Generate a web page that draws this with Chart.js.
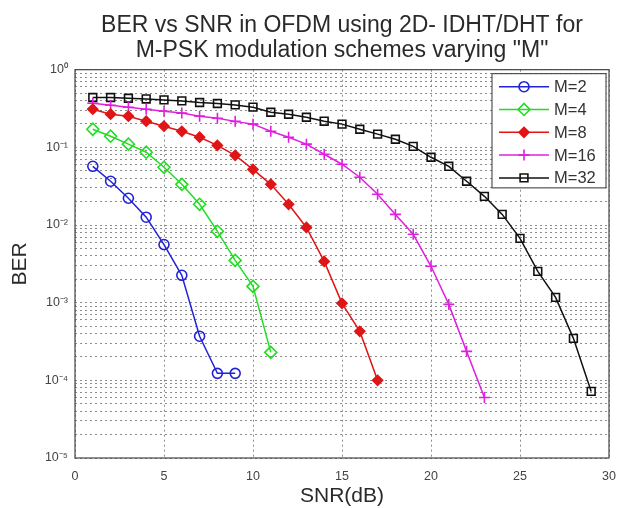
<!DOCTYPE html>
<html><head><meta charset="utf-8">
<style>html,body{margin:0;padding:0;background:#fff;overflow:hidden}</style>
<script src="https://cdn.jsdelivr.net/npm/chart.js@4.4.1/dist/chart.umd.min.js"></script>
</head><body>
<canvas id="c" width="619" height="508" style="width:619px;height:508px;display:block"></canvas>
<script>
// ---- data ----
const snr = [1,2,3,4,5,6,7,8,9,10,11,12,13,14,15,16,17,18,19,20,21,22,23,24,25,26,27,28,29];
const seriesNames = ['M=2','M=4','M=8','M=16','M=32'];
const berM2  = [0.057,0.0366,0.0221,0.0126,0.0056,0.00225,0.00037,0.000123,0.000123];
const berM4  = [0.171,0.139,0.110,0.0865,0.0554,0.0334,0.0185,0.0083,0.0035,0.00162,0.000229];
const berM8  = [0.31,0.267,0.252,0.217,0.187,0.161,0.135,0.106,0.079,0.052,0.0334,0.0185,0.0093,0.0034,0.00098,0.000427,0.0001];
const berM16 = [0.37,0.349,0.329,0.31,0.292,0.276,0.252,0.237,0.216,0.199,0.161,0.135,0.11,0.0815,0.0606,0.0412,0.0249,0.0137,0.0076,0.00294,0.00095,0.000236,0.00006];
const berM32 = [0.438,0.438,0.429,0.42,0.408,0.396,0.378,0.367,0.352,0.329,0.283,0.267,0.244,0.217,0.199,0.171,0.148,0.127,0.103,0.0745,0.057,0.0366,0.0234,0.0137,0.00674,0.00253,0.00117,0.000347,0.000072];
const xTicks = [0,5,10,15,20,25,30];
const yDecades = [-5,-4,-3,-2,-1,0];
const titleLines = ['BER vs SNR in OFDM using 2D- IDHT/DHT for', 'M-PSK modulation schemes varying "M"'];

const pts = arr => arr.map((v,i)=>({x:snr[i], y:v}));
const sup = {'0':'\u2070','1':'\u00b9','2':'\u00b2','3':'\u00b3','4':'\u2074','5':'\u2075','-':'\u207b'};
const supStr = n => String(n).split('').map(c=>sup[c]).join('');

Chart.defaults.font.family = '"Liberation Sans", Arial, sans-serif';
Chart.defaults.color = '#333';

const styles = [
  {c:'#2323d6', ps:'circle', r:5, fill:false},
  {c:'#22dd22', ps:'rectRot', r:6, fill:false},
  {c:'#e01515', ps:'rectRot', r:5, fill:true},
  {c:'#e020e0', ps:'cross', r:5.5, fill:false},
  {c:'#111111', ps:'rect', r:5.5, fill:false}
];
const all = [berM2, berM4, berM8, berM16, berM32];
const datasets = all.map((arr,i)=>({
  label: seriesNames[i],
  data: pts(arr),
  borderColor: styles[i].c,
  backgroundColor: styles[i].fill ? styles[i].c : 'rgba(0,0,0,0)',
  pointBackgroundColor: styles[i].fill ? styles[i].c : 'rgba(0,0,0,0)',
  pointBorderColor: styles[i].c,
  pointStyle: styles[i].ps,
  pointRadius: styles[i].r,
  pointBorderWidth: 1.6,
  borderWidth: 1.5,
  tension: 0,
  showLine: true,
  fill: false
}));

const boxPlugin = {
  id:'box',
  afterDatasetsDraw(chart){
    const {ctx, chartArea:a} = chart;
    ctx.save();
    ctx.strokeStyle = '#444'; ctx.lineWidth = 1.2;
    ctx.strokeRect(a.left, a.top, a.right-a.left, a.bottom-a.top);
    ctx.restore();
  }
};

const legendPlugin = {
  id:'insideLegend',
  afterDraw(chart){
    const {ctx, chartArea:a} = chart;
    const right = a.right - 3, left = right - 114, top = a.top + 4, rowH = 22.8;
    const n = chart.data.datasets.length;
    const bottom = top + 13 + rowH*(n-1) + 10;
    ctx.save();
    ctx.fillStyle = '#fff';
    ctx.fillRect(left, top, right-left, bottom-top);
    ctx.strokeStyle = '#333'; ctx.lineWidth = 1;
    ctx.strokeRect(left, top, right-left, bottom-top);
    chart.data.datasets.forEach((ds,i)=>{
      const y = top + 13 + rowH*i;
      ctx.strokeStyle = ds.borderColor; ctx.lineWidth = ds.borderWidth;
      ctx.beginPath(); ctx.moveTo(left+7, y); ctx.lineTo(left+57, y); ctx.stroke();
      ctx.lineWidth = ds.pointBorderWidth;
      ctx.strokeStyle = ds.pointBorderColor; ctx.fillStyle = ds.pointBackgroundColor;
      Chart.helpers.drawPoint(ctx, {pointStyle: ds.pointStyle, radius: ds.pointRadius, borderWidth: ds.pointBorderWidth, rotation:0}, left+32, y);
      ctx.fillStyle = '#333';
      ctx.font = '16.5px "Liberation Sans", Arial, sans-serif';
      ctx.textBaseline = 'middle'; ctx.textAlign = 'left';
      ctx.fillText(ds.label, left+62, y+1);
    });
    ctx.restore();
  }
};

new Chart(document.getElementById('c'), {
  type:'scatter',
  data:{datasets},
  plugins:[boxPlugin, legendPlugin],
  options:{
    responsive:false, animation:false, devicePixelRatio:1,
    layout:{padding:{left:0,right:10,top:0,bottom:0}},
    plugins:{
      legend:{display:false}, tooltip:{enabled:false},
      title:{display:true, text:titleLines, fullSize:false, color:'#2a2a2a',
        font:{size:23, weight:'normal', lineHeight:1.08}, padding:{top:13,bottom:7}}
    },
    scales:{
      x:{type:'linear', min:0, max:30,
        afterBuildTicks(s){ s.ticks = xTicks.map(v=>({value:v})); },
        ticks:{font:{size:12.5}, color:'#444', padding:11},
        grid:{color:'#8c8c8c', lineWidth:1, drawTicks:false},
        border:{display:false, dash:[2,3]},
        title:{display:true, text:'SNR(dB)', color:'#2a2a2a', font:{size:21, lineHeight:1.14}, padding:{top:0,bottom:0}},
        afterFit(s){ s.height = 50; s.paddingLeft = 0; s.paddingRight = 0; }
      },
      y:{type:'logarithmic', min:1e-5, max:1,
        afterBuildTicks(s){
          const t=[];
          yDecades.forEach(e=>{ for(let m=1;m<=9;m++){ const v=m*Math.pow(10,e); if(v<=1.0000001) t.push({value:v}); if(e===0) break; } });
          s.ticks=t;
        },
        ticks:{autoSkip:false, font:{size:12.5}, color:'#444', padding:7,
          callback(v){ const l=Math.log10(v); const r=Math.round(l); return Math.abs(l-r)<1e-6 ? '10'+supStr(r) : ''; }},
        grid:{color:'#8c8c8c', lineWidth:1, drawTicks:false},
        border:{display:false, dash:[2,3]},
        title:{display:true, text:'BER', color:'#2a2a2a', font:{size:21, lineHeight:1.14}, padding:{top:8,bottom:0}},
        afterFit(s){ s.width = 75; s.paddingTop = 0; s.paddingBottom = 0; }
      }
    }
  }
});
</script>
</body></html>
